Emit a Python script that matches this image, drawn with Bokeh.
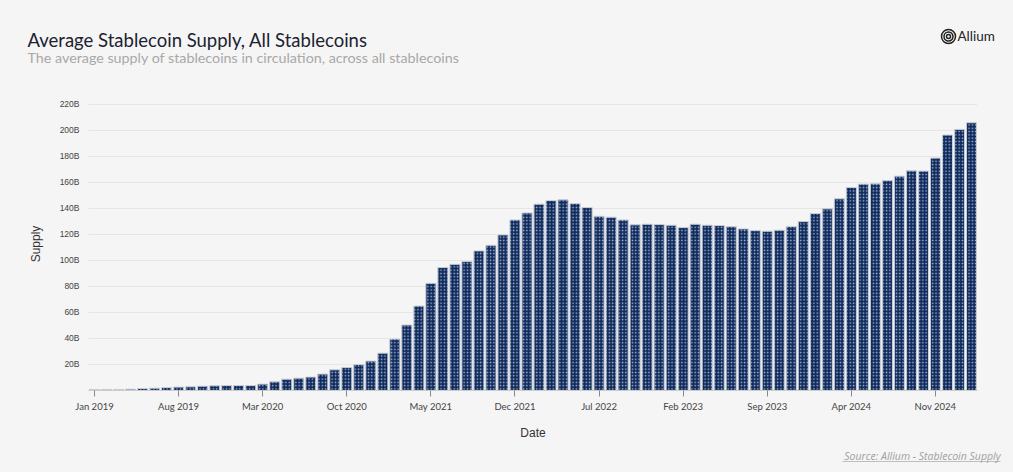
from bokeh.plotting import figure
from bokeh.layouts import column
from bokeh.models import FixedTicker, ColumnDataSource, Range1d
from bokeh.embed import file_html
from bokeh.resources import INLINE
from bokeh.core.properties import value

# Monthly average supply, Jan 2019 .. Feb 2025 (billions USD)
supply_b = [
    0.8, 0.8, 0.8, 1.0, 1.5, 1.8, 2.3, 2.6, 2.8, 3.3, 3.6, 3.8,          # 2019
    3.8, 3.8, 4.9, 6.7, 8.7, 9.5, 10.3, 12.6, 15.9, 17.7, 20.0, 22.6,    # 2020
    28.7, 39.5, 50.3, 64.9, 82.3, 94.4, 96.9, 99.0, 107.2, 111.5, 119.5, 131.0,  # 2021
    136.4, 143.1, 145.9, 146.4, 143.6, 140.5, 133.8, 133.1, 131.0, 127.2, 127.7, 127.4,  # 2022
    126.9, 125.1, 127.7, 126.9, 126.7, 125.9, 124.1, 122.8, 122.3, 123.1, 125.9, 129.7,  # 2023
    135.9, 139.5, 147.2, 155.9, 158.5, 158.7, 161.3, 164.6, 168.7, 168.5, 178.5, 196.2,  # 2024
    200.5, 205.6,                                                          # 2025
]
month_idx = list(range(len(supply_b)))

x_tick_pos = [0, 7, 14, 21, 28, 35, 42, 49, 56, 63, 70]
x_tick_labels = ["Jan 2019", "Aug 2019", "Mar 2020", "Oct 2020", "May 2021", "Dec 2021",
                 "Jul 2022", "Feb 2023", "Sep 2023", "Apr 2024", "Nov 2024"]
y_tick_pos = [20, 40, 60, 80, 100, 120, 140, 160, 180, 200, 220]
y_tick_labels = ["20B", "40B", "60B", "80B", "100B", "120B", "140B", "160B", "180B", "200B", "220B"]

title_text = "Average Stablecoin Supply, All Stablecoins"
subtitle_text = "The average supply of stablecoins in circulation, across all stablecoins"
source_text = "Source: Allium - Stablecoin Supply"
brand_text = "Allium"

BG = "#f5f5f5"
W, H = 1013, 472
HEAD_H, FOOT_H = 80, 30
MAIN_H = H - HEAD_H - FOOT_H


def blank_fig(height, y0, y1):
    f = figure(width=W, height=height, output_backend="svg", toolbar_location=None,
               x_range=Range1d(0, W), y_range=Range1d(y1, y0),
               x_axis_type=None, y_axis_type=None,
               min_border=0, min_border_left=0, min_border_right=0,
               min_border_top=0, min_border_bottom=0)
    f.frame_align = False
    f.background_fill_color = BG
    f.border_fill_color = BG
    f.outline_line_color = None
    f.grid.visible = False
    return f


# ---- header (page pixel coordinates, y downward) ----
head = blank_fig(HEAD_H, 0, HEAD_H)
head.text(x=[27], y=[39], text=[title_text], text_font=value("Lato"),
          text_font_size="18.5px", text_color="#1b2230", text_baseline="middle")
head.text(x=[27], y=[56.5], text=[subtitle_text], text_font=value("Lato"),
          text_font_size="14.3px", text_color="#a8a8a8", text_baseline="middle")
head.scatter(x=[948, 948, 948], y=[36, 36, 36], size=[14, 9, 4], fill_color=None,
             line_color="#222222", line_width=1.5)
head.text(x=[957], y=[35.5], text=[brand_text], text_font=value("Lato"),
          text_font_size="13.5px", text_color="#222222", text_baseline="middle")

# ---- main chart ----
src = ColumnDataSource(dict(x=month_idx, y=supply_b))
p = figure(width=W, height=MAIN_H, output_backend="svg", toolbar_location=None,
           x_range=Range1d(-0.5, len(supply_b) - 0.5), y_range=Range1d(0, 225),
           min_border_left=88, min_border_right=36, min_border_top=97 - HEAD_H,
           min_border_bottom=(H - FOOT_H) - 390)
p.frame_align = False
p.background_fill_color = BG
p.border_fill_color = BG
p.outline_line_color = None

p.vbar(x="x", top="y", width=0.84, source=src,
       fill_color="#0f2a5c", line_color="#c9ced8", line_width=1,
       hatch_pattern="dot", hatch_color="#a9b8d2", hatch_scale=3.3, hatch_weight=0.9)

p.xgrid.grid_line_color = None
p.ygrid.grid_line_color = "#e6e6e6"
p.ygrid.ticker = FixedTicker(ticks=y_tick_pos)

p.xaxis.ticker = FixedTicker(ticks=x_tick_pos)
p.xaxis.major_label_overrides = {k: v for k, v in zip(x_tick_pos, x_tick_labels)}
p.xaxis.axis_line_color = "#cccccc"
p.xaxis.major_tick_line_color = "#888888"
p.xaxis.major_tick_out = 6
p.xaxis.major_tick_in = 0
p.xaxis.minor_tick_line_color = None
p.xaxis.major_label_text_font = "Lato"
p.xaxis.major_label_text_font_size = "9.5px"
p.xaxis.major_label_text_color = "#444444"
p.xaxis.major_label_standoff = 4
p.xaxis.axis_label = "Date"
p.xaxis.axis_label_text_font = "Liberation Sans"
p.xaxis.axis_label_text_font_style = "normal"
p.xaxis.axis_label_text_font_size = "12px"
p.xaxis.axis_label_text_color = "#333333"
p.xaxis.axis_label_standoff = 11

p.yaxis.ticker = FixedTicker(ticks=y_tick_pos)
p.yaxis.major_label_overrides = {k: v for k, v in zip(y_tick_pos, y_tick_labels)}
p.yaxis.axis_line_color = None
p.yaxis.major_tick_line_color = None
p.yaxis.minor_tick_line_color = None
p.yaxis.major_label_text_font = "Liberation Sans"
p.yaxis.major_label_text_font_size = "8.5px"
p.yaxis.major_label_text_color = "#444444"
p.yaxis.major_label_standoff = 3
p.yaxis.axis_label = "Supply"
p.yaxis.axis_label_text_font = "Liberation Sans"
p.yaxis.axis_label_text_font_style = "normal"
p.yaxis.axis_label_text_font_size = "12px"
p.yaxis.axis_label_text_color = "#333333"
p.yaxis.axis_label_standoff = 14

# ---- footer (page pixel coordinates, y downward) ----
foot = blank_fig(FOOT_H, H - FOOT_H, H)
foot.text(x=[1000], y=[455], text=[source_text], text_font=value("Open Sans"),
          text_font_size="10.5px", text_font_style="italic", text_color="#a0a0a0",
          text_align="right", text_baseline="middle")
foot.segment(x0=[842], y0=[461], x1=[1000], y1=[461], line_color="#b0b0b0", line_width=0.8)

layout = column(head, p, foot, spacing=0)

html = file_html(layout, INLINE)
html = html.replace("<head>", "<head><style>html,body{margin:0;padding:0;overflow:hidden;background:%s;}</style>" % BG, 1)
open("out.html", "w").write(html)
